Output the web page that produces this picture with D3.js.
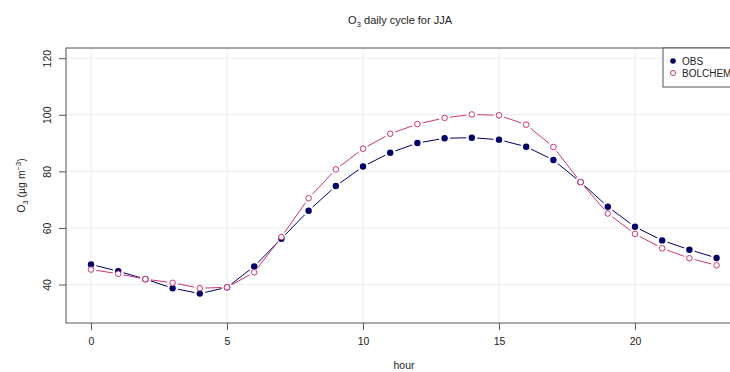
<!DOCTYPE html>
<html><head><meta charset="utf-8">
<script src="https://cdn.jsdelivr.net/npm/d3@7"></script>
<style>body{margin:0;background:#fff}svg{display:block;font-family:"Liberation Sans",Arial,sans-serif}</style>
</head><body><svg id="c" width="730" height="372"></svg>
<script>
const hours = d3.range(0,24);
const obs = [47.1,44.7,41.9,38.7,36.8,39.0,46.4,56.2,66.1,74.8,81.7,86.6,90.0,91.7,91.9,91.2,88.7,84.0,76.2,67.5,60.4,55.6,52.3,49.4];
const bolchem = [45.3,43.8,41.9,40.6,38.7,39.0,44.3,56.8,70.5,80.7,88.0,93.3,96.7,98.9,100.1,99.8,96.5,88.6,76.2,65.1,57.9,52.8,49.3,46.8];
const xTicks = [0,5,10,15,20];
const yTicks = [40,60,80,100,120];
const seriesNames = ["OBS","BOLCHEM"];
const colObs = "#000066", colBol = "#cc3377";

const svg = d3.select("#c");
const L=66, R=741.6, T=48, B=323;
const x = d3.scaleLinear().domain([-0.92,23.92]).range([L,R]);
const y = d3.scaleLinear().domain([26.4,123.6]).range([B,T]);

// grid
svg.append("g").selectAll("line").data(xTicks).join("line")
  .attr("x1",d=>x(d)).attr("x2",d=>x(d)).attr("y1",T).attr("y2",B)
  .attr("stroke","#ebebeb").attr("stroke-width",1);
svg.append("g").selectAll("line").data(yTicks).join("line")
  .attr("x1",L).attr("x2",R).attr("y1",d=>y(d)).attr("y2",d=>y(d))
  .attr("stroke","#ebebeb").attr("stroke-width",1);

// axes
const xa = svg.append("g").attr("transform",`translate(0,${B})`)
  .call(d3.axisBottom(x).tickValues(xTicks).tickSize(7).tickPadding(8).tickFormat(d3.format("d")));
const ya = svg.append("g").attr("transform",`translate(${L},0)`)
  .call(d3.axisLeft(y).tickValues(yTicks).tickSize(7).tickPadding(6).tickFormat(d3.format("d")));
[xa,ya].forEach(a=>{a.select(".domain").remove();
  a.selectAll("line").attr("stroke","#555");
  a.selectAll("text").attr("fill","#222").style("font-size","10.5px").style("font-family","Liberation Sans, Arial, sans-serif");});
ya.selectAll("text").attr("text-anchor","middle").attr("dy",null)
  .attr("x",0).attr("y",0)
  .attr("transform","translate(-16,0) rotate(-90) translate(0,0)")
  .attr("dy","0.35em").attr("dy",null).attr("y",0);
ya.selectAll("text").attr("transform","translate(-15.5,0) rotate(-90)").attr("y",0).attr("dy","0em");

// box
svg.append("rect").attr("x",L).attr("y",T).attr("width",R-L).attr("height",B-T)
  .attr("fill","none").attr("stroke","#555").attr("stroke-width",1);

// lines with gaps (type "b")
function gapLines(vals,col){
  const pts = hours.map((h,i)=>[x(h),y(vals[i])]);
  const segs=[];
  for(let i=0;i<pts.length-1;i++){
    const [x1,y1]=pts[i],[x2,y2]=pts[i+1];
    const dx=x2-x1,dy=y2-y1,len=Math.hypot(dx,dy),g=5.5;
    if(len>2*g) segs.push([x1+dx/len*g,y1+dy/len*g,x2-dx/len*g,y2-dy/len*g]);
  }
  svg.append("g").selectAll("line").data(segs).join("line")
    .attr("x1",d=>d[0]).attr("y1",d=>d[1]).attr("x2",d=>d[2]).attr("y2",d=>d[3])
    .attr("stroke",col).attr("stroke-width",1);
}
gapLines(obs,colObs);
gapLines(bolchem,colBol);

svg.append("g").selectAll("circle").data(hours).join("circle")
  .attr("cx",d=>x(d)).attr("cy",(d,i)=>y(obs[i])).attr("r",3.2).attr("fill",colObs);
svg.append("g").selectAll("circle").data(hours).join("circle")
  .attr("cx",d=>x(d)).attr("cy",(d,i)=>y(bolchem[i])).attr("r",2.8)
  .attr("fill","#fff").attr("stroke",colBol).attr("stroke-width",1);

// title
const t = svg.append("text").attr("x",400).attr("y",24).attr("text-anchor","middle")
  .attr("fill","#222").style("font-size","11px");
t.append("tspan").text("O");
t.append("tspan").attr("dy",3).style("font-size","8px").text("3");
t.append("tspan").attr("dy",-3).text(" daily cycle for JJA");

// x label
svg.append("text").attr("x",404).attr("y",369).attr("text-anchor","middle")
  .attr("fill","#222").style("font-size","10.5px").text("hour");

// y label
const yl = svg.append("text").attr("transform",`translate(25,${(T+B)/2}) rotate(-90)`)
  .attr("text-anchor","middle").attr("fill","#222").style("font-size","10.5px");
yl.append("tspan").text("O");
yl.append("tspan").attr("dy",3).style("font-size","7.5px").text("3");
yl.append("tspan").attr("dy",-3).text(" (\u00b5g m");
yl.append("tspan").attr("dy",-4).style("font-size","7.5px").text("\u22123");
yl.append("tspan").attr("dy",4).text(")");

// legend
const lg = svg.append("g");
lg.append("rect").attr("x",663).attr("y",48).attr("width",90).attr("height",39)
  .attr("fill","#fff").attr("stroke","#555").attr("stroke-width",1);
const lrows = lg.selectAll("g").data(seriesNames).join("g")
  .attr("transform",(d,i)=>`translate(673,${61+i*12})`);
lrows.append("circle").attr("r",(d,i)=>i?2.5:2.8)
  .attr("fill",(d,i)=>i?"#fff":colObs).attr("stroke",(d,i)=>i?colBol:"none").attr("stroke-width",1);
lrows.append("text").attr("x",9).attr("y",3.8).attr("fill","#222").style("font-size","10px").text(d=>d);
</script></body></html>
